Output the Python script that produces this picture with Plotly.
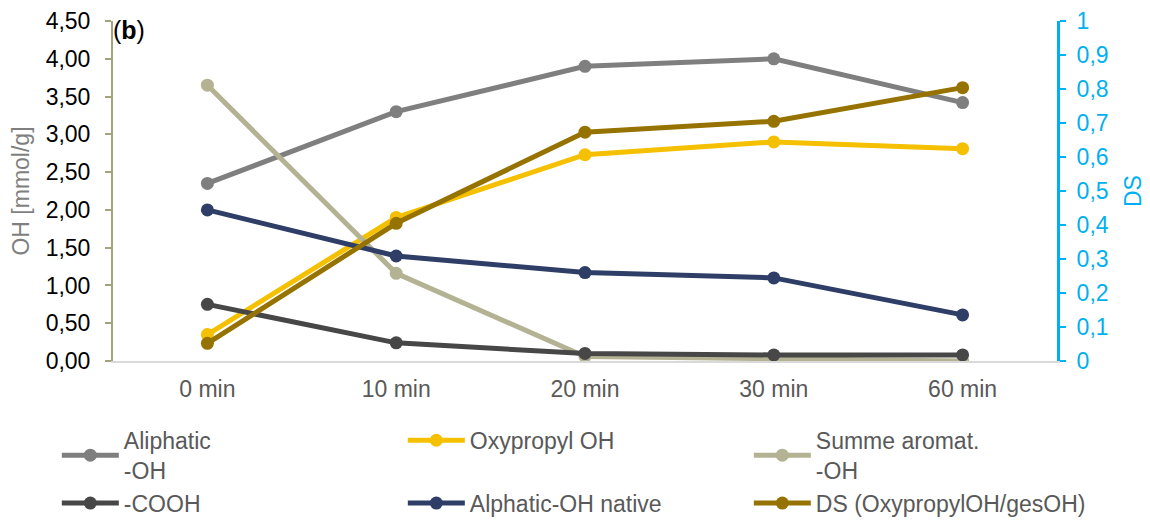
import plotly.graph_objects as go

# Reaction time points
times = ["0 min", "10 min", "20 min", "30 min", "60 min"]

# OH contents [mmol/g]
aliphatic_oh = [2.35, 3.30, 3.90, 4.00, 3.42]
oxypropyl_oh = [0.35, 1.90, 2.73, 2.90, 2.81]
aromatic_oh = [3.65, 1.16, 0.06, 0.03, 0.00]
cooh = [0.75, 0.24, 0.10, 0.08, 0.08]
aliphatic_native = [2.00, 1.39, 1.17, 1.10, 0.61]

# Degree of substitution (right axis)
ds = [0.052, 0.405, 0.673, 0.705, 0.804]

series = [
    ("Aliphatic<br>-OH", aliphatic_oh, "#7f7f7f", "y"),
    ("Oxypropyl OH", oxypropyl_oh, "#f5c000", "y"),
    ("Summe aromat.<br>-OH", aromatic_oh, "#b3b394", "y"),
    ("-COOH", cooh, "#474747", "y"),
    ("Alphatic-OH native", aliphatic_native, "#2f3e66", "y"),
    ("DS (OxypropylOH/gesOH)", ds, "#967300", "y2"),
]

FONT = "Liberation Sans, Arial, sans-serif"

fig = go.Figure()
for name, vals, color, axis in series:
    fig.add_trace(go.Scatter(
        x=times, y=vals, name=name, yaxis=axis,
        mode="lines+markers",
        line=dict(color=color, width=5),
        marker=dict(color=color, size=13),
    ))

fig.update_layout(
    width=1150, height=524,
    margin=dict(l=113, r=93, t=21, b=163, autoexpand=False),
    paper_bgcolor="white", plot_bgcolor="white",
    separators=",.",
    font=dict(family=FONT, size=23, color="#595959"),
    showlegend=True,
    legend=dict(
        orientation="h",
        x=-0.0595, y=-0.17, xanchor="left", yanchor="top",
        entrywidth=274, entrywidthmode="pixels",
        itemwidth=57,
        font=dict(family=FONT, size=23, color="#595959"),
        bgcolor="rgba(0,0,0,0)",
        traceorder="normal",
    ),
    xaxis=dict(
        type="category",
        range=[-0.5, 4.5],
        showgrid=False,
        showline=True, linecolor="#d9d9d9", linewidth=2,
        ticks="", ticklabelstandoff=6,
        tickfont=dict(family=FONT, size=23, color="#595959"),
        zeroline=False,
    ),
    yaxis=dict(
        range=[0, 4.5], dtick=0.5, tickformat=".2f",
        showgrid=False, zeroline=False,
        showline=True, linecolor="#a3a37e", linewidth=2,
        ticks="outside", ticklen=6, tickcolor="#a3a37e", tickwidth=2,
        ticklabelstandoff=10,
        tickfont=dict(family=FONT, size=23, color="#000000"),
        title=dict(text="OH [mmol/g]", font=dict(family=FONT, size=23, color="#7f7f7f"), standoff=10),
    ),
    yaxis2=dict(
        range=[0, 1], dtick=0.1,
        overlaying="y", side="right",
        showgrid=False, zeroline=False,
        showline=True, linecolor="#00b0f0", linewidth=3,
        ticks="outside", ticklen=6, tickcolor="#00b0f0", tickwidth=2,
        ticklabelstandoff=6,
        tickfont=dict(family=FONT, size=23, color="#00b0f0"),
        title=dict(text="DS", font=dict(family=FONT, size=23, color="#00b0f0"), standoff=18),
    ),
)

fig.add_annotation(
    text="(<b>b</b>)", xref="paper", yref="paper",
    x=-0.002, y=1.02, xanchor="left", yanchor="top",
    showarrow=False,
    font=dict(family=FONT, size=25, color="#000000"),
)

fig.write_html("out.html")
